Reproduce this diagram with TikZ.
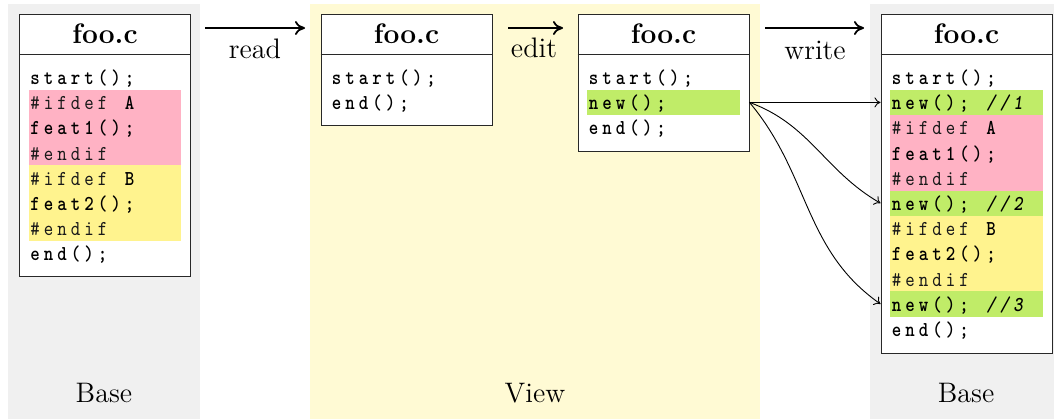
\documentclass[tikz,border=0pt]{standalone}
\usepackage{fontspec}
\usepackage{graphicx}
\usetikzlibrary{calc,arrows.meta}

\definecolor{basebg}{RGB}{240,240,240}
\definecolor{viewbg}{RGB}{255,250,212}
\definecolor{hlpink}{RGB}{255,178,196}
\definecolor{hlyellow}{RGB}{255,243,142}
\definecolor{hlgreen}{RGB}{192,236,104}
\definecolor{framec}{RGB}{40,40,40}
\definecolor{dirc}{RGB}{25,25,25}

% fixed-column code: every character sits in a box of the same width
\newcommand\cchar[1]{\makebox[6.75pt][c]{\scalebox{0.85}[1]{#1}}}
\def\cloop#1{\ifx\relax#1\else\cchar{#1}\expandafter\cloop\fi}
\newcommand\code[1]{\cloop#1\relax}
\newcommand\dir[1]{{\mdseries\color{dirc}\code{#1}}}
\newcommand\cmt[1]{{\itshape\code{#1}}}

% highlight band: box, first row, number of rows, colour
\newcommand\hl[4]{%
  \fill[#4] ($(#1.north west)+(9.5,{50.6+25.2*#2})$)
    rectangle ($(#1.north east)+(-10,{50.6+25.2*(#2+#3)})$);}
% code line: box, row, node name, text
\newcommand\cl[4]{%
  \node[codeline] (#3) at ($(#1.north west)+(9,{70.5+25.2*#2})$) {#4};}
% title of a file box
\newcommand\boxtitle[2]{%
  \node[titletext] (#2) at ($(#1.north)+(0,29)$) {foo.c};
  \draw[framec,line width=0.5pt] ($(#1.north west)+(0,40)$) -- ($(#1.north east)+(0,40)$);}

\begin{document}
\begin{tikzpicture}[x=0.5pt,y=-0.5pt,
  filebox/.style={draw=framec,fill=white,line width=0.5pt,anchor=north west,
    minimum width=85.5pt,inner sep=0pt},
  titletext/.style={anchor=base,inner sep=0pt,font=\fontsize{14.1}{17}\selectfont\bfseries},
  codeline/.style={anchor=base west,inner sep=0pt,
    font=\fontsize{10.6}{12}\selectfont\ttfamily\bfseries},
  label/.style={anchor=base,inner sep=0pt,font=\fontsize{14.1}{17}\selectfont},
  flow/.style={line width=0.9pt,-{To[length=5pt,width=7pt]}},
  link/.style={line width=0.45pt,-{To[length=3pt,width=5pt]}}]

\useasboundingbox (0,0) rectangle (1054,418);

% stage backgrounds
\fill[basebg] (8,4) rectangle (200,420);
\fill[viewbg] (310,4) rectangle (760,420);
\fill[basebg] (870,4) rectangle (1060,420);

% file boxes
\node[filebox,minimum height=131pt]   (b1) at (19,14) {};
\node[filebox,minimum height=55.5pt]  (b2) at (320.5,14) {};
\node[filebox,minimum height=68.5pt]  (b3) at (577.5,14) {};
\node[filebox,minimum height=169.5pt] (b4) at (880.5,14) {};

\boxtitle{b1}{t1}
\boxtitle{b2}{t2}
\boxtitle{b3}{t3}
\boxtitle{b4}{t4}

% highlighted regions
\hl{b1}{1}{3}{hlpink}
\hl{b1}{4}{3}{hlyellow}
\hl{b3}{1}{1}{hlgreen}
\hl{b4}{1}{1}{hlgreen}
\hl{b4}{2}{3}{hlpink}
\hl{b4}{5}{1}{hlgreen}
\hl{b4}{6}{3}{hlyellow}
\hl{b4}{9}{1}{hlgreen}

% base file
\cl{b1}{0}{a0}{\code{start();}}
\cl{b1}{1}{a1}{\dir{\#ifdef~}\code{A}}
\cl{b1}{2}{a2}{\code{feat1();}}
\cl{b1}{3}{a3}{\dir{\#endif}}
\cl{b1}{4}{a4}{\dir{\#ifdef~}\code{B}}
\cl{b1}{5}{a5}{\code{feat2();}}
\cl{b1}{6}{a6}{\dir{\#endif}}
\cl{b1}{7}{a7}{\code{end();}}

% view
\cl{b2}{0}{v0}{\code{start();}}
\cl{b2}{1}{v1}{\code{end();}}

% edited view
\cl{b3}{0}{e0}{\code{start();}}
\cl{b3}{1}{e1}{\code{new();}}
\cl{b3}{2}{e2}{\code{end();}}

% written base file
\cl{b4}{0}{w0}{\code{start();}}
\cl{b4}{1}{w1}{\code{new();~}\cmt{//1}}
\cl{b4}{2}{w2}{\dir{\#ifdef~}\code{A}}
\cl{b4}{3}{w3}{\code{feat1();}}
\cl{b4}{4}{w4}{\dir{\#endif}}
\cl{b4}{5}{w5}{\code{new();~}\cmt{//2}}
\cl{b4}{6}{w6}{\dir{\#ifdef~}\code{B}}
\cl{b4}{7}{w7}{\code{feat2();}}
\cl{b4}{8}{w8}{\dir{\#endif}}
\cl{b4}{9}{w9}{\code{new();~}\cmt{//3}}
\cl{b4}{10}{w10}{\code{end();}}

% stage labels
\node[label] (l1) at (104,402) {Base};
\node[label] (l2) at (535,402) {View};
\node[label] (l3) at (966,402) {Base};

% operations between stages
\coordinate (ra) at (205,28);  \coordinate (rb) at (305,28);
\coordinate (ea) at (508,28);  \coordinate (eb) at (563,28);
\coordinate (wa) at (765,28);  \coordinate (wb) at (864,28);
\draw[flow] (ra) -- (rb);
\draw[flow] (ea) -- (eb);
\draw[flow] (wa) -- (wb);
\node[label] (rl) at (255,58) {read};
\node[label] (el) at (534,57) {edit};
\node[label] (wl) at (815,59) {write};

% where the new line ends up
\coordinate (src) at ($(b3.north east)+(0,{50.6+25.2*1.5})$);
\coordinate (d1) at ($(b4.north west)+(0,{50.6+25.2*1.5})$);
\coordinate (d2) at ($(b4.north west)+(0,{50.6+25.2*5.5})$);
\coordinate (d3) at ($(b4.north west)+(0,{50.6+25.2*9.5})$);
\draw[link] (src) -- (d1);
\draw[link] (src) to[out=-20,in=150] (d2);
\draw[link] (src) to[out=-50,in=145] (d3);
\end{tikzpicture}
\end{document}
